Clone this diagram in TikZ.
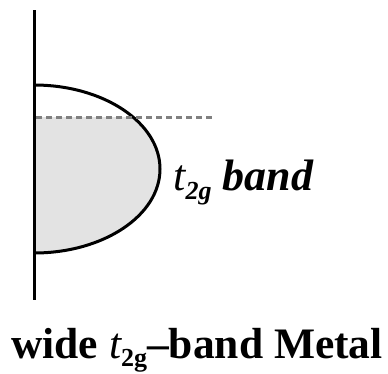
\documentclass[tikz,border=0pt]{standalone}
\usepackage{fontspec}
\setmainfont{Liberation Serif}
\newcommand{\ttwog}[1]{{\itshape\mdseries t}\raisebox{-0.45ex}{\fontsize{#1}{#1}\selectfont\bfseries 2g}}

\begin{document}
\begin{tikzpicture}[x=1pt,y=-1pt,line width=3pt]
  \useasboundingbox (0,0) rectangle (388,373);
  % filled part of the band, below the Fermi level
  \begin{scope}
    \clip (34,117) rectangle (200,260);
    \fill[black!11] (34,85) arc[start angle=90,end angle=-90,x radius=126,y radius=-84] -- cycle;
  \end{scope}
  % band outline and axis
  \draw (34,85) arc[start angle=90,end angle=-90,x radius=126,y radius=-84];
  \draw (34,10) -- (34,300);
  \draw[gray,dash pattern=on 6pt off 4pt] (36,117) -- (213,117);
  \node[anchor=base west,inner sep=0pt,font=\fontsize{44}{44}\selectfont\bfseries\itshape] (bandlabel) at (172,190) {\ttwog{26} band};
  \node[anchor=base,inner sep=0pt,font=\fontsize{43.5}{43.5}\selectfont\bfseries] (title) at (197,358) {wide \ttwog{26}--band Metal};
\end{tikzpicture}
\end{document}
